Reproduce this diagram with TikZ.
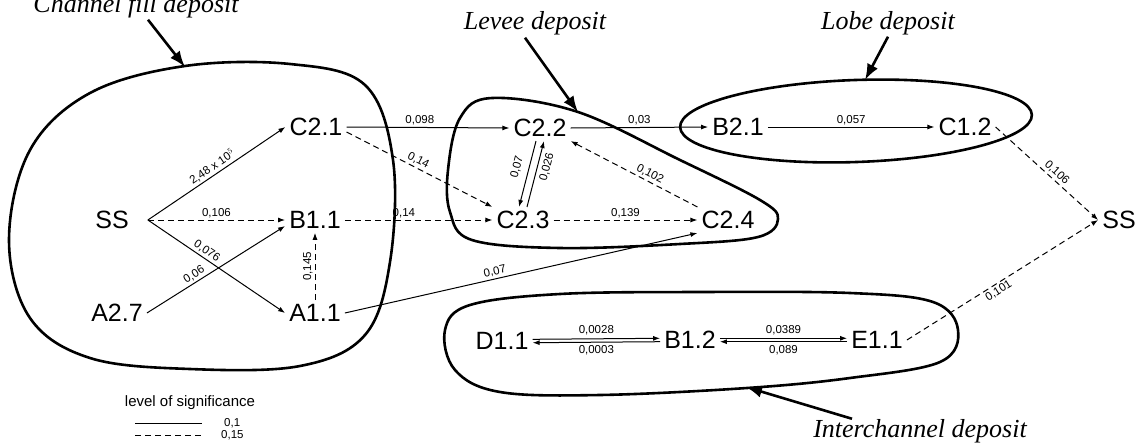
\documentclass[tikz,border=0pt]{standalone}
\usepackage{fontspec}
\setmainfont{Liberation Sans}
\newfontfamily\titlefont{Liberation Serif}
\usetikzlibrary{arrows.meta}
\tikzset{
  stnode/.style={inner sep=4pt, font=\fontsize{25}{28}\selectfont},
  lbl/.style={font=\fontsize{11.5}{13}\selectfont, inner sep=2pt},
  edge/.style={line width=1pt, -{Latex[length=7pt,width=5pt]}},
  dedge/.style={edge, dash pattern=on 6pt off 4pt},
  blob/.style={line width=2.6pt},
  ttl/.style={font=\titlefont\itshape\fontsize{26}{30}\selectfont, anchor=base, inner sep=0pt},
  ttlarrow/.style={line width=2.6pt, -{Latex[length=16pt,width=12pt]}},
}
\begin{document}
\begin{tikzpicture}[x=1pt,y=-1pt]
\useasboundingbox (0,0) rectangle (1141,445);
\fill[white] (0,0) rectangle (1141,445);

% blobs
\draw[blob] plot[smooth cycle, tension=0.6] coordinates {(185,66) (290,64) (365,85) (393,160) (390,262) (365,335) (300,366) (190,369) (90,358) (30,318) (9,240) (30,150) (90,93)};
\draw[blob] plot[smooth cycle, tension=0.6] coordinates {(492,98) (578,112) (680,160) (760,200) (778,219) (758,237) (680,244) (560,248) (472,240) (450,212) (448,170) (460,118)};
\draw[blob] (856,121) ellipse[x radius=176, y radius=41, rotate=2];
\draw[blob] plot[smooth cycle, tension=0.6] coordinates {(445,330) (470,305) (560,294) (700,292) (850,293) (933,302) (958,330) (940,362) (850,378) (747,388) (600,395) (500,392) (455,370)};

% nodes
\node[stnode] (ssL) at (112,220) {SS};
\node[stnode] (c21) at (316,127) {C2.1};
\node[stnode] (b11) at (315,220) {B1.1};
\node[stnode] (a11) at (315,313) {A1.1};
\node[stnode] (a27) at (117,313) {A2.7};
\node[stnode] (c22) at (540,128) {C2.2};
\node[stnode] (c23) at (523,220) {C2.3};
\node[stnode] (c24) at (728,220) {C2.4};
\node[stnode] (b21) at (738,127) {B2.1};
\node[stnode] (c12) at (965,127) {C1.2};
\node[stnode] (ssR) at (1119,220) {SS};
\node[stnode] (e11) at (877,340) {E1.1};
\node[stnode] (b12) at (690,340) {B1.2};
\node[stnode] (d11) at (502,341) {D1.1};
\coordinate (ssout) at ([xshift=15pt]ssL.east);

% edges
\draw[edge] (ssout) -- (c21.west) node[lbl, midway, sloped, above] {2,48 x 10$^{5}$};
\draw[dedge] (ssout) -- (b11.west) node[lbl, midway, above] {0,106};
\draw[edge] (ssout) -- (a11.west) node[lbl, pos=0.4, sloped, above] {0,076};
\draw[edge] (a27.east) -- ([yshift=-6pt]b11.west) node[lbl, pos=0.37, sloped, above] {0,06};
\draw[dedge] (a11.north) -- (b11.south) node[lbl, midway, rotate=90, anchor=south] {0,145};
\draw[edge] (c21.east) -- (c22.west) node[lbl, pos=0.45, above] {0,098};
\draw[dedge] ([yshift=-5pt]c21.east) -- (c23.north west) node[lbl, pos=0.47, sloped, above] {0,14};
\draw[dedge] (b11.east) -- (c23.west) node[lbl, pos=0.4, above] {0,14};
\draw[edge] (a11.east) -- (c24.south west) node[lbl, pos=0.43, sloped, above] {0,07};
\draw[edge] ([xshift=-4pt]c22.south) -- ([xshift=-4pt]c23.north);
\draw[edge] ([xshift=4pt]c23.north) -- ([xshift=4pt]c22.south);
\node[lbl, rotate=75] (l007) at (517,167) {0,07};
\node[lbl, rotate=75] (l026) at (547,167) {0,026};
\draw[dedge] (c24.north west) -- (c22.south east) node[lbl, pos=0.4, sloped, above] {0,102};
\draw[dedge] (c23.east) -- (c24.west) node[lbl, midway, above] {0,139};
\draw[edge] (c22.east) -- (b21.west) node[lbl, midway, above] {0,03};
\draw[edge] (b21.east) -- (c12.west) node[lbl, midway, above] {0,057};
\draw[dedge] (c12.east) -- (ssR.west) node[lbl, pos=0.55, sloped, above] {0,106};
\draw[dedge] (e11.east) -- (ssR.west) node[lbl, pos=0.46, sloped, below] {0,101};
\draw[edge] ([yshift=1.7pt]d11.east) -- ([yshift=1.7pt]b12.west) node[lbl, midway, above=1pt] {0,0028};
\draw[edge] ([yshift=-1.7pt]b12.west) -- ([yshift=-1.7pt]d11.east) node[lbl, midway, below=1pt] {0,0003};
\draw[edge] ([yshift=1.7pt]b12.east) -- ([yshift=1.7pt]e11.west) node[lbl, midway, above=1pt] {0,0389};
\draw[edge] ([yshift=-1.7pt]e11.west) -- ([yshift=-1.7pt]b12.east) node[lbl, midway, below=1pt] {0,089};

% titles
\node[ttl] (tchan) at (136,12) {Channel fill deposit};
\node[ttl] (tlev) at (535,29) {Levee deposit};
\node[ttl] (tlobe) at (888,29) {Lobe deposit};
\node[ttl] (tinter) at (920,437) {Interchannel deposit};
\coordinate (pchan) at (185,67);
\coordinate (plev) at (578,112);
\coordinate (plobe) at (865,80);
\coordinate (pinter) at (746,387);
\draw[ttlarrow] ([shift={(12pt,-2pt)}]tchan.south) -- (pchan);
\draw[ttlarrow] ([shift={(-10pt,-3pt)}]tlev.south) -- (plev);
\draw[ttlarrow] ([shift={(0pt,-2pt)}]tlobe.south) -- (plobe);
\draw[ttlarrow] ([shift={(-68pt,0pt)}]tinter.north) -- (pinter);

% legend
\node[font=\fontsize{15}{17}\selectfont, inner sep=0pt] (lgh) at (190,403) {level of significance};
\coordinate (lg1a) at (135,423);
\coordinate (lg1b) at (202,423);
\coordinate (lg2a) at (135,435);
\coordinate (lg2b) at (202,435);
\draw[line width=1pt] (lg1a) -- (lg1b);
\draw[line width=1pt, dash pattern=on 6pt off 4pt] (lg2a) -- (lg2b);
\node[lbl, anchor=west] (lgv1) at (222,423) {0,1};
\node[lbl, anchor=west] (lgv2) at (219,435) {0,15};
\end{tikzpicture}
\end{document}
